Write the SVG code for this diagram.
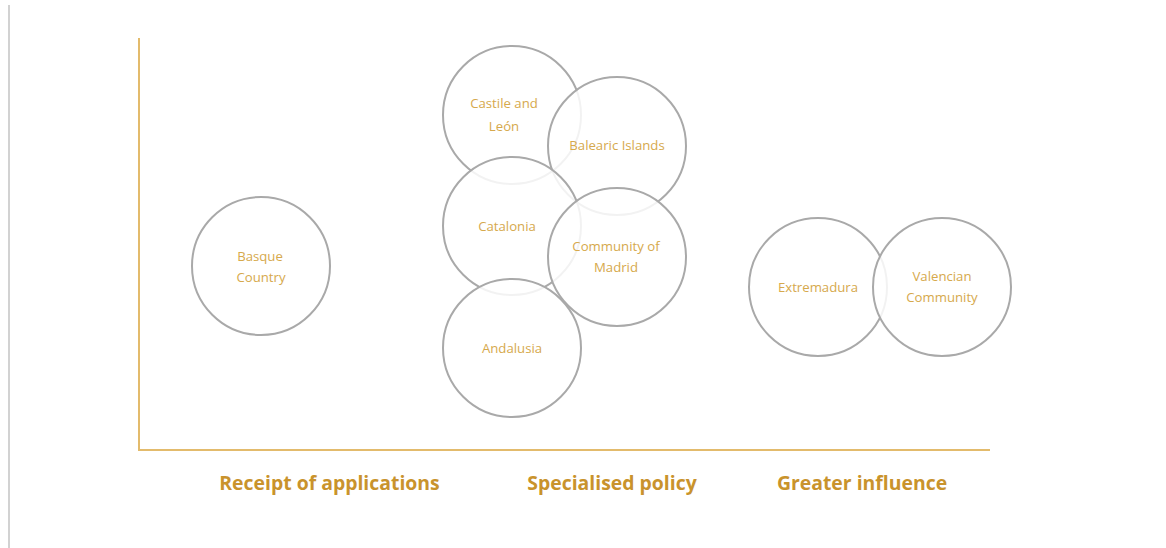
<svg xmlns="http://www.w3.org/2000/svg" width="1166" height="548" viewBox="0 0 1166 548">
<style>
.c{fill:#fff;fill-opacity:0.85;stroke:#a9a9a9;stroke-width:2}
.t{font-family:"Open Sans","Liberation Sans",sans-serif;font-size:13.2px;fill:#d6a94c;text-anchor:middle}
.l{font-family:"Open Sans","Liberation Sans",sans-serif;font-size:19.4px;font-weight:bold;fill:#c9932c;text-anchor:middle}
.ax{stroke:#e3bb6c;stroke-width:2;fill:none}
</style>
<rect width="1166" height="548" fill="#fff"/>
<line x1="9" y1="5" x2="9" y2="548" stroke="#d2d2d2" stroke-width="2"/>
<g id="axes">
<polyline class="ax" points="139,38 139,450 990,450"/>
</g>
<g id="basque"><circle class="c" cx="261" cy="266" r="69"/><text class="t" x="260" y="261">Basque</text><text class="t" x="261" y="282">Country</text></g>
<g id="castile"><circle class="c" cx="512" cy="115" r="69"/><text class="t" x="504" y="108">Castile and</text><text class="t" x="504" y="131">León</text></g>
<g id="balearic"><circle class="c" cx="617" cy="146" r="69"/><text class="t" x="617" y="150">Balearic Islands</text></g>
<g id="catalonia"><circle class="c" cx="512" cy="226" r="69"/><text class="t" x="507" y="231">Catalonia</text></g>
<g id="madrid"><circle class="c" cx="617" cy="257" r="69"/><text class="t" x="616" y="251">Community of</text><text class="t" x="616" y="272">Madrid</text></g>
<g id="andalusia"><circle class="c" cx="512" cy="348" r="69"/><text class="t" x="512" y="353">Andalusia</text></g>
<g id="extremadura"><circle class="c" cx="818" cy="287" r="69"/><text class="t" x="818" y="292">Extremadura</text></g>
<g id="valencian"><circle class="c" cx="942" cy="287" r="69"/><text class="t" x="942" y="281">Valencian</text><text class="t" x="942" y="302">Community</text></g>
<g id="labels">
<text class="l" x="329.5" y="490">Receipt of applications</text>
<text class="l" x="612" y="490">Specialised policy</text>
<text class="l" x="862" y="490">Greater influence</text>
</g>
</svg>
